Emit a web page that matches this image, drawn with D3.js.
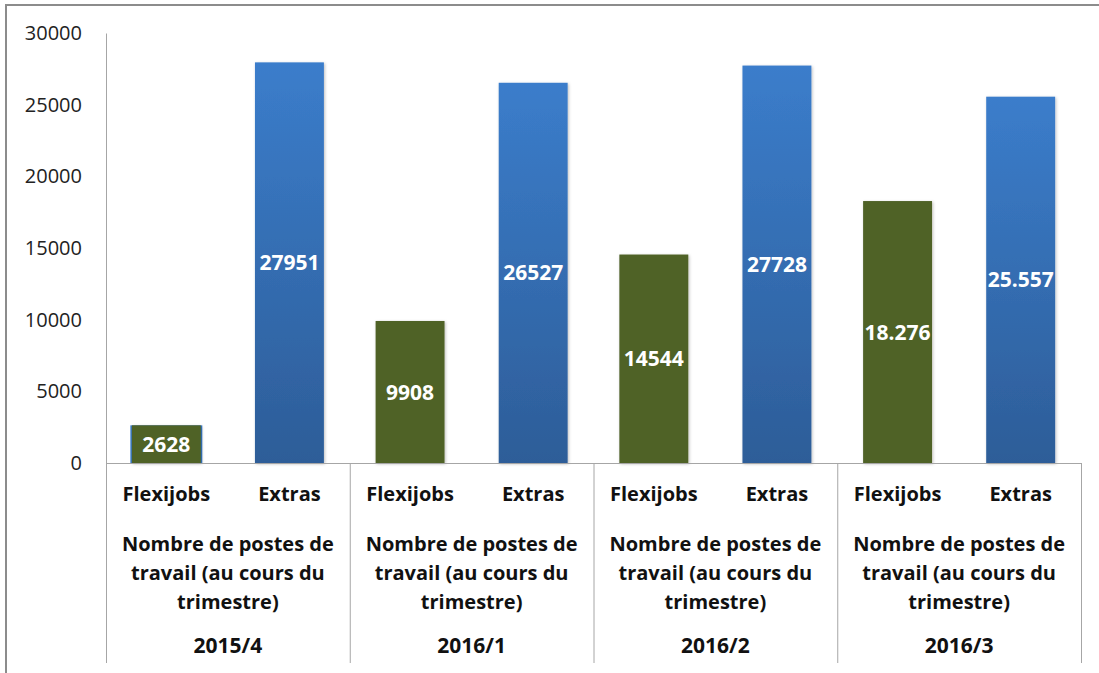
<!DOCTYPE html>
<html>
<head>
<meta charset="utf-8">
<script src="https://cdn.jsdelivr.net/npm/d3@7"></script>
<style>
  body { margin: 0; background: #fff; }
  svg { display: block; }
</style>
</head>
<body>
<div id="chart"></div>
<script>
var width = 1099;
var height = 673;

// data
var quarters = ["2015/4", "2016/1", "2016/2", "2016/3"];
var series = ["Flexijobs", "Extras"];
var flexijobs = [2628, 9908, 14544, 18276];
var extras = [27951, 26527, 27728, 25557];
var flexiLabels = ["2628", "9908", "14544", "18.276"];
var extrasLabels = ["27951", "26527", "27728", "25.557"];
var groupLines = ["Nombre de postes de", "travail (au cours du", "trimestre)"];
var yTicks = [0, 5000, 10000, 15000, 20000, 25000, 30000];

var margin = {top: 33, left: 106, right: 18, bottom: 210};
var plotBottom = 463;

var svg = d3.select("#chart")
    .append("svg")
    .attr("width", width)
    .attr("height", height)
    .attr("font-family", "'Open Sans', sans-serif");

var defs = svg.append("defs");
var grad = defs.append("linearGradient")
    .attr("id", "blueGrad")
    .attr("x1", 0).attr("y1", 0).attr("x2", 0).attr("y2", 1);
grad.append("stop").attr("offset", "0%").attr("stop-color", "#3b7dcb");
grad.append("stop").attr("offset", "100%").attr("stop-color", "#2d5d98");

var shadow = defs.append("filter").attr("id", "shadow")
    .attr("x", "-10%").attr("y", "-10%").attr("width", "130%").attr("height", "130%");
shadow.append("feDropShadow")
    .attr("dx", 1).attr("dy", 1).attr("stdDeviation", 1.5)
    .attr("flood-color", "#000").attr("flood-opacity", 0.25);

// outer frame
svg.append("path")
    .attr("d", "M6,673 V5 H1099")
    .attr("fill", "none")
    .attr("stroke", "#8c8c8c")
    .attr("stroke-width", 2);

var x0 = d3.scaleBand()
    .domain(quarters)
    .range([106, 1081]);

var x1 = d3.scaleBand()
    .domain(series)
    .range([0, x0.bandwidth()])
    .paddingInner(0.44)
    .paddingOuter(0.21);

var y = d3.scaleLinear()
    .domain([0, 30000])
    .range([plotBottom, margin.top]);

// y axis
var yAxis = d3.axisLeft(y)
    .tickValues(yTicks)
    .tickSize(0)
    .tickPadding(24)
    .tickFormat(d3.format("d"));

var gy = svg.append("g")
    .attr("transform", "translate(106,0)")
    .call(yAxis);
gy.select(".domain").attr("stroke", "#a6a6a6").attr("stroke-width", 1);
gy.selectAll("text")
    .attr("font-family", "'Open Sans', sans-serif")
    .attr("font-size", 20)
    .attr("fill", "#222");

// bars
var groups = svg.selectAll(".grp")
    .data(quarters)
    .enter().append("g")
    .attr("class", "grp")
    .attr("transform", function(d) { return "translate(" + x0(d) + ",0)"; });

groups.each(function(q, i) {
  var g = d3.select(this);
  var vals = [
    {s: "Flexijobs", v: flexijobs[i], label: flexiLabels[i]},
    {s: "Extras", v: extras[i], label: extrasLabels[i]}
  ];
  vals.forEach(function(d) {
    if (d.s === "Flexijobs" && i === 0) {
      // first one shows thin blue edges
      g.append("rect")
        .attr("x", x1(d.s) - 1.5)
        .attr("y", y(d.v))
        .attr("width", x1.bandwidth() + 3)
        .attr("height", plotBottom - y(d.v))
        .attr("fill", "#3b7dcb");
    }
    g.append("rect")
      .attr("x", x1(d.s))
      .attr("y", y(d.v))
      .attr("width", x1.bandwidth())
      .attr("height", plotBottom - y(d.v))
      .attr("fill", d.s === "Extras" ? "url(#blueGrad)" : "#4f6228")
      .attr("filter", "url(#shadow)");
    g.append("text")
      .attr("x", x1(d.s) + x1.bandwidth() / 2)
      .attr("y", (y(d.v) + plotBottom) / 2)
      .attr("dy", "0.36em")
      .attr("text-anchor", "middle")
      .attr("font-size", 21)
      .attr("font-weight", "bold")
      .attr("fill", "#fff")
      .text(d.label);
  });

  // category labels
  series.forEach(function(s) {
    g.append("text")
      .attr("x", x1(s) + x1.bandwidth() / 2)
      .attr("y", 501)
      .attr("text-anchor", "middle")
      .attr("font-size", 20)
      .attr("font-weight", "bold")
      .attr("fill", "#111")
      .text(s);
  });
  groupLines.forEach(function(t, k) {
    g.append("text")
      .attr("x", x0.bandwidth() / 2)
      .attr("y", 551 + k * 29)
      .attr("text-anchor", "middle")
      .attr("font-size", 20)
      .attr("font-weight", "bold")
      .attr("fill", "#111")
      .text(t);
  });
  g.append("text")
    .attr("x", x0.bandwidth() / 2)
    .attr("y", 653)
    .attr("text-anchor", "middle")
    .attr("font-size", 21)
    .attr("font-weight", "bold")
    .attr("fill", "#111")
    .text(q);
});

// x axis line and group separators
svg.append("line")
    .attr("x1", 106).attr("x2", 1081)
    .attr("y1", plotBottom + 0.5).attr("y2", plotBottom + 0.5)
    .attr("stroke", "#a6a6a6");

svg.selectAll(".sep")
    .data(quarters.concat(["end"]))
    .enter().append("line")
    .attr("class", "sep")
    .attr("x1", function(d) { return (d === "end" ? 1081 : x0(d)) + 0.5; })
    .attr("x2", function(d) { return (d === "end" ? 1081 : x0(d)) + 0.5; })
    .attr("y1", plotBottom)
    .attr("y2", 663)
    .attr("stroke", "#a6a6a6");
</script>
</body>
</html>
